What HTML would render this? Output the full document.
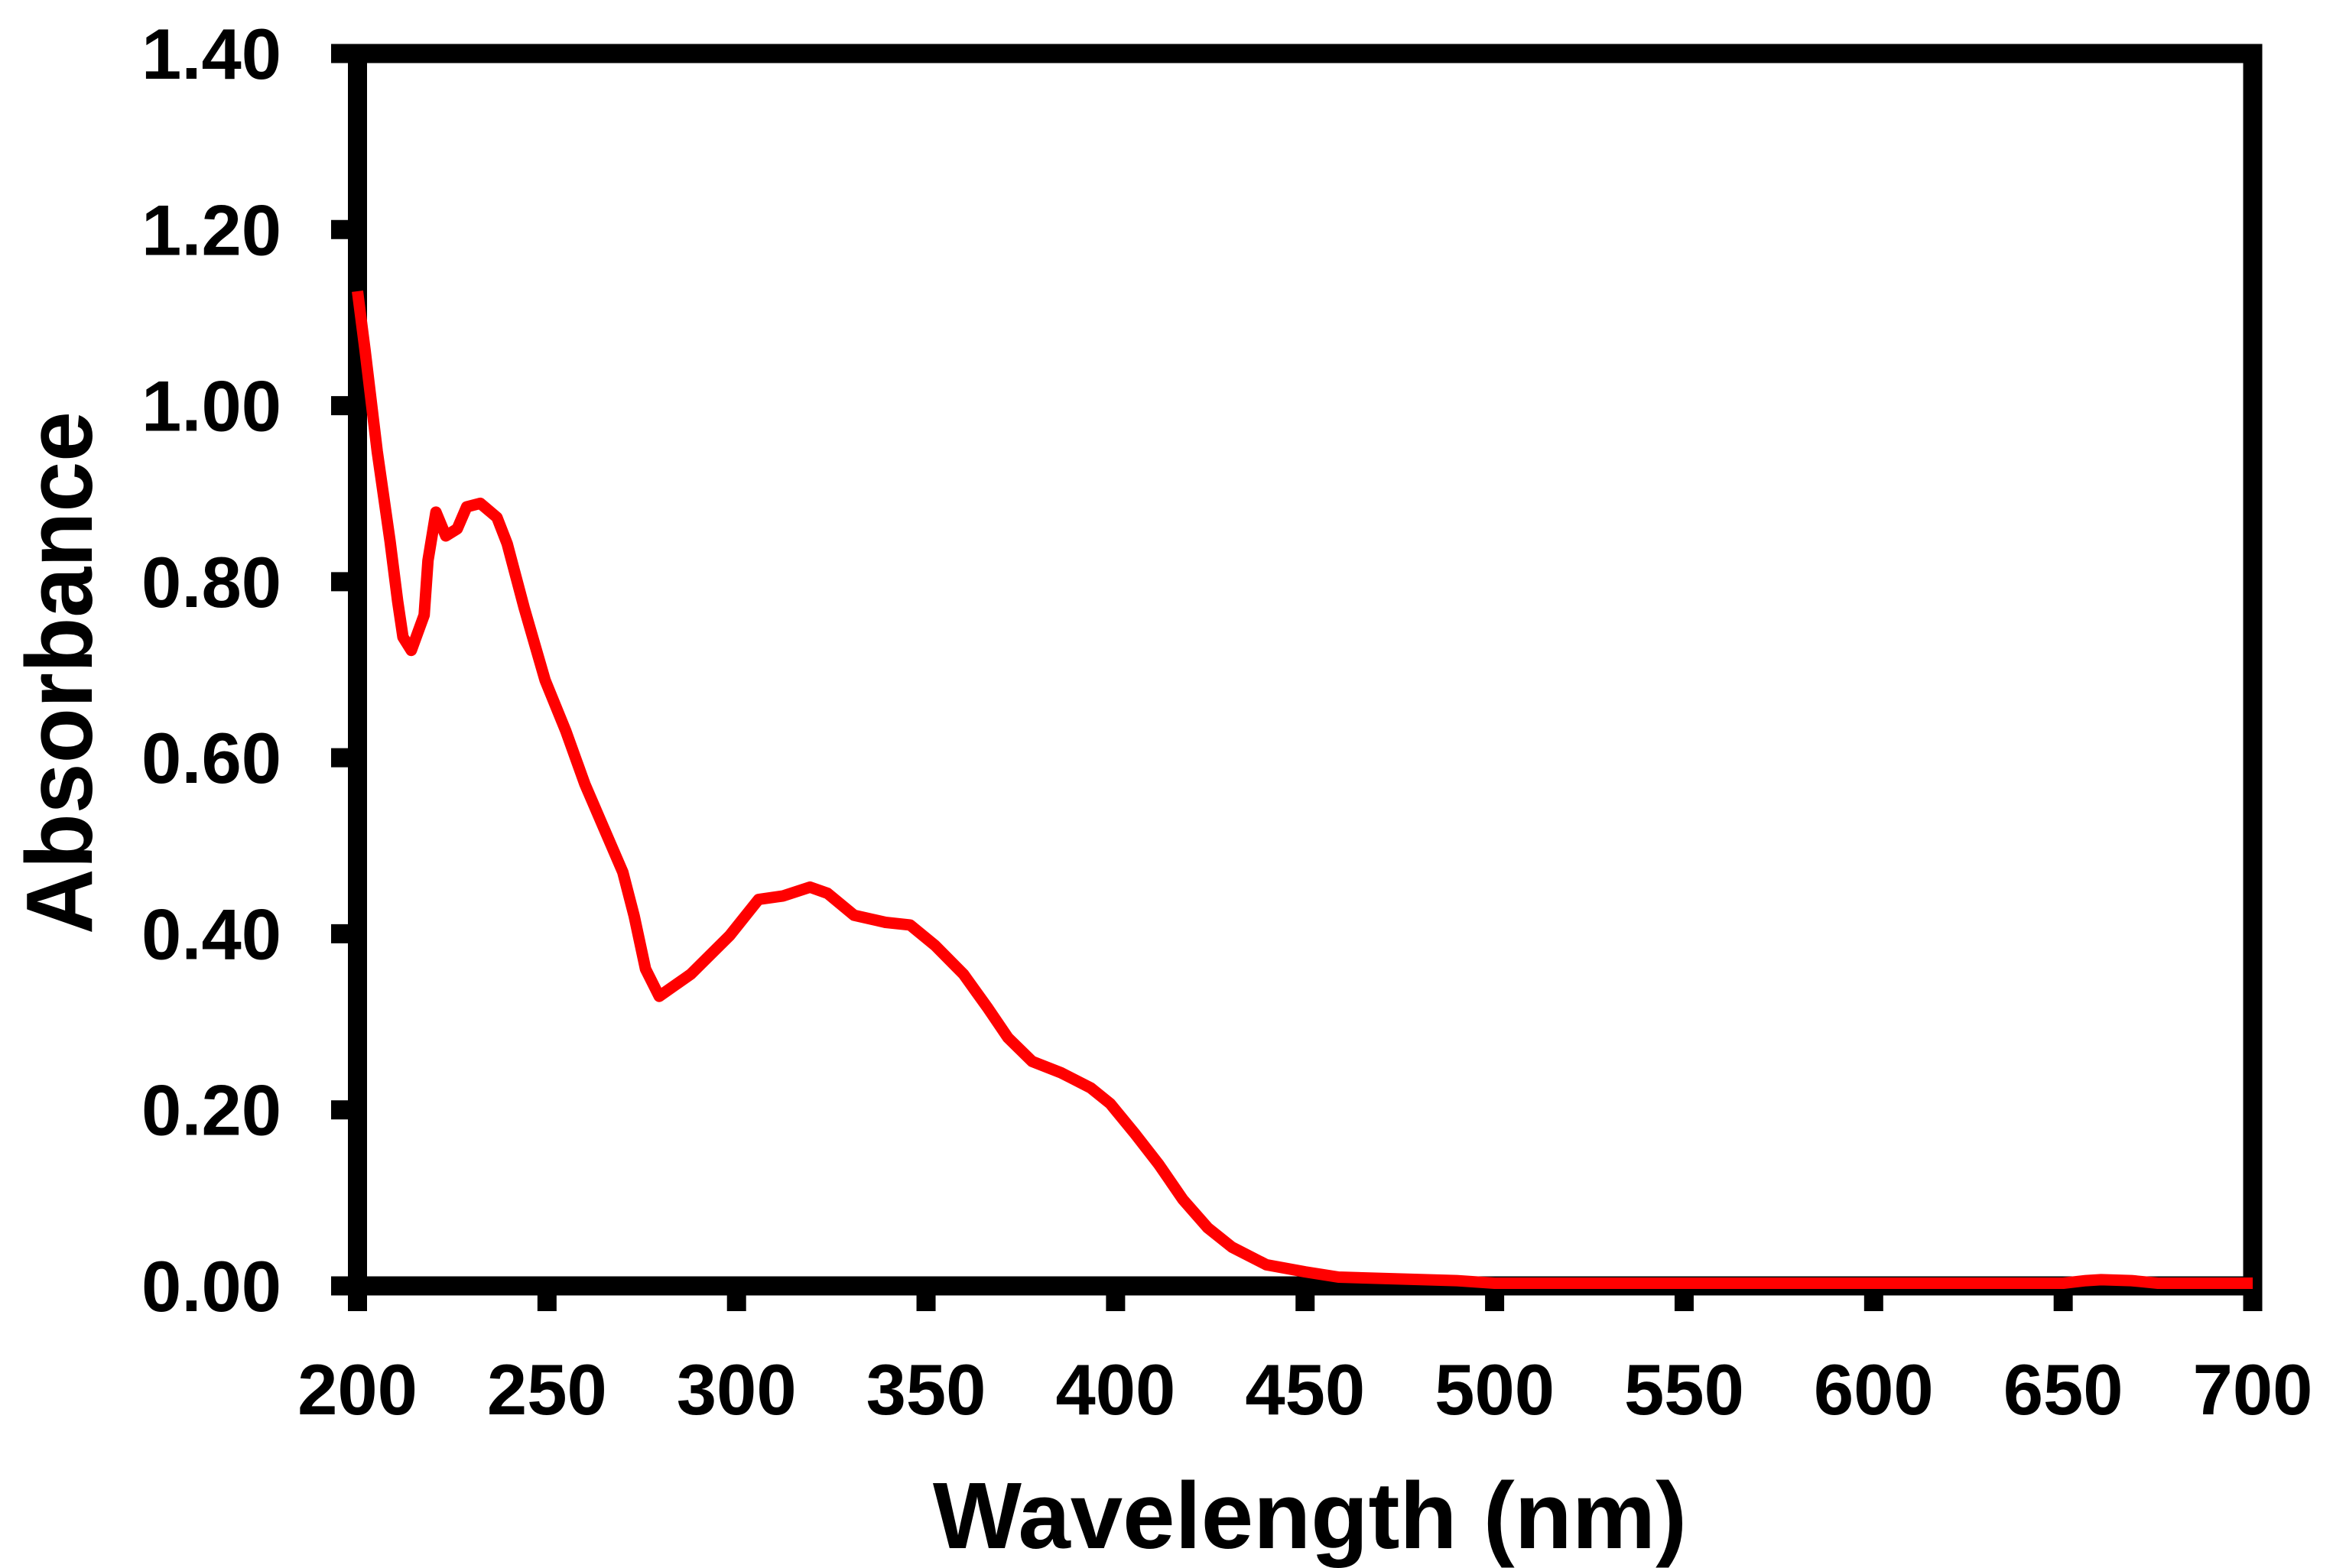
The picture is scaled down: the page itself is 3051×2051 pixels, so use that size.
<!DOCTYPE html>
<html><head><meta charset="utf-8"><style>
html,body{margin:0;padding:0;background:#fff;}
svg{display:block;}
text{font-family:"Liberation Sans",sans-serif;font-weight:bold;fill:#000;}
</style></head><body>
<svg id="chart" width="3051" height="2051" viewBox="0 0 3051 2051" xmlns="http://www.w3.org/2000/svg">
<g id="ticks"></g>
<g id="labels"></g>
<rect x="467.5" y="70" width="2478.5" height="1612" fill="none" stroke="#000" stroke-width="25"/>
<path id="curve" fill="none" stroke="#ff0000" stroke-width="15" stroke-linejoin="round" stroke-linecap="butt"/>
<text x="1713" y="2025" font-size="123" text-anchor="middle">Wavelength (nm)</text>
<text transform="translate(120,880) rotate(-90)" font-size="123" text-anchor="middle" textLength="684" lengthAdjust="spacingAndGlyphs">Absorbance</text>
</svg>
<script>
const wavelengths = [200,202,205.2,208.6,210.6,212,214.2,217.6,218.6,220.7,223.3,226.3,228.8,232.4,236.8,239.5,244,249.5,255,260,265,270,273,276,279.6,287.9,298.2,305.8,312.3,319.4,324,331,339.3,345.8,352.3,359.9,366.4,371.6,378,385.7,393.4,398.6,404.9,411.4,417.8,424.3,430.7,439.8,450,458.8,490,500,650,656,660,668,675,700];
const absorbance = [1.13,1.063,0.948,0.846,0.778,0.737,0.722,0.762,0.824,0.879,0.852,0.86,0.885,0.889,0.873,0.843,0.77,0.688,0.63,0.57,0.52,0.47,0.42,0.36,0.329,0.354,0.398,0.439,0.443,0.453,0.446,0.421,0.413,0.41,0.387,0.354,0.315,0.282,0.255,0.242,0.225,0.207,0.174,0.138,0.098,0.066,0.044,0.024,0.016,0.010,0.006,0.003,0.003,0.006,0.007,0.006,0.003,0.003];
const xTicks = [200,250,300,350,400,450,500,550,600,650,700];
const yTicks = [0,0.2,0.4,0.6,0.8,1.0,1.2,1.4];
const yTickLabels = ["0.00","0.20","0.40","0.60","0.80","1.00","1.20","1.40"];

const X0=467.5, X1=2946, Y0=1682, Y1=70;
function xs(v){return X0+(v-200)/500*(X1-X0);}
function ys(v){return Y0-(v/1.4)*(Y0-Y1);}
const NS='http://www.w3.org/2000/svg';
const tg=document.getElementById('ticks'), lg=document.getElementById('labels');
xTicks.forEach(t=>{
  const l=document.createElementNS(NS,'line');
  
  
  l.setAttribute('x1',xs(t));l.setAttribute('x2',xs(t));l.setAttribute('y1',Y0);l.setAttribute('y2',1715);
  l.setAttribute('stroke','#000');l.setAttribute('stroke-width','25');
  tg.appendChild(l);
  const tx=document.createElementNS(NS,'text');
  
  
  tx.setAttribute('x',xs(t));tx.setAttribute('y',1850);
  tx.setAttribute('font-size','94');tx.setAttribute('text-anchor','middle');
  tx.textContent=String(t);
  lg.appendChild(tx);
});
yTicks.forEach((t,i)=>{
  const l=document.createElementNS(NS,'line');
  
  
  l.setAttribute('x1',433);l.setAttribute('x2',X0);l.setAttribute('y1',ys(t));l.setAttribute('y2',ys(t));
  l.setAttribute('stroke','#000');l.setAttribute('stroke-width','25');
  tg.appendChild(l);
  const tx=document.createElementNS(NS,'text');
  
  
  tx.setAttribute('x',368);tx.setAttribute('y',ys(t)+33);
  tx.setAttribute('font-size','94');tx.setAttribute('text-anchor','end');
  tx.textContent=yTickLabels[i];
  lg.appendChild(tx);
});
let d='';
wavelengths.forEach((w,i)=>{d+=(i?'L':'M')+xs(w).toFixed(1)+','+ys(absorbance[i]).toFixed(1);});
document.getElementById('curve').setAttribute('d',d);
</script>
</body></html>
